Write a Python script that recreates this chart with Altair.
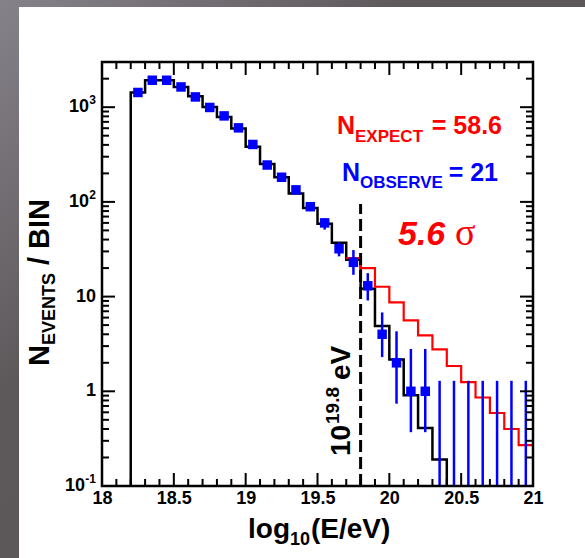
import altair as alt
import pandas as pd

W, H = 431, 424
FONT = "Liberation Sans"

# ---- data -------------------------------------------------------------
# black histogram (expectation with suppression), lower bin edges, width 0.1
mc_lo = [18.2, 18.3, 18.4, 18.5, 18.6, 18.7, 18.8, 18.9, 19.0, 19.1, 19.2,
         19.3, 19.4, 19.5, 19.6, 19.7, 19.8, 19.9, 20.0, 20.1, 20.2, 20.3]
mc_val = [1430, 1925, 1925, 1636, 1306, 1007, 790, 597, 382, 251, 182,
          123, 86, 58.7, 37, 24.5, 12.1, 4.9, 2.17, 0.91, 0.41, 0.19]
mc_end = 20.4

# red histogram (expectation without cutoff)
exp_lo = [19.7, 19.8, 19.9, 20.0, 20.1, 20.2, 20.3, 20.4, 20.5, 20.6, 20.7, 20.8, 20.9]
exp_val = [25.5, 20.0, 12.7, 8.7, 5.6, 3.9, 2.77, 1.85, 1.25, 0.86, 0.59, 0.40, 0.27]
exp_end = 21.0

# observed events (blue squares) with error bars
obs_x = [18.25, 18.35, 18.45, 18.55, 18.65, 18.75, 18.85, 18.95, 19.05, 19.15, 19.25,
         19.35, 19.45, 19.55, 19.65, 19.75, 19.85, 19.95, 20.05, 20.15, 20.25]
obs_n = [1430, 1925, 1925, 1636, 1283, 993, 809, 605, 404, 245, 182,
         134, 89, 60, 32, 23, 13, 4, 2, 1, 1]
obs_lo = [1392, 1881, 1881, 1596, 1247, 961, 781, 580, 384, 229, 169,
          122, 80, 51, 26.6, 17, 9.1, 2.3, 0.74, 0.37, 0.37]
obs_hi = [1468, 1969, 1969, 1676, 1319, 1025, 837, 630, 424, 261, 195,
          147, 99, 67, 37.5, 31, 17.7, 6.8, 4.3, 2.8, 2.8]

# empty bins: upper limits only
zero_x = [20.35, 20.45, 20.55, 20.65, 20.75, 20.85, 20.95]
zero_lo = [0.1, 0.1, 0.1, 0.1, 0.1, 0.1, 0.1]
zero_hi = [1.29, 1.29, 1.29, 1.29, 1.29, 1.29, 1.29]

cut_x = 19.8
cut_top = 95

x_labels = [18, 18.5, 19, 19.5, 20, 20.5, 21]
y_decades = [0.1, 1, 10, 100, 1000]
y_main = ["10", "1", "10", "10", "10"]
y_sup = ["-1", "", "", "2", "3"]

# ---- scales -----------------------------------------------------------
xs = alt.Scale(domain=[18, 21], nice=False, zero=False)
ys = alt.Scale(type="log", domain=[0.1, 3000], nice=False)
xaxis = alt.Axis(values=x_labels, labelExpr="'' + datum.value", ticks=False,
                 domain=False, grid=False, title=None, labelFont=FONT,
                 labelFontWeight="bold", labelFontSize=18, labelColor="black",
                 labelPadding=3, labelFlush=False, labelOverlap=False, zindex=2)

one = pd.DataFrame({"a": [0]})

# ---- background --------------------------------------------------------
bg = alt.Chart(one).mark_rect(
    fill=alt.Gradient(gradient="linear", x1=0, y1=0, x2=1, y2=1,
                      stops=[alt.GradientStop(color="#86828a", offset=0),
                             alt.GradientStop(color="#5d595b", offset=0.35),
                             alt.GradientStop(color="#5a5658", offset=1)])
).encode(x=alt.value(-102), x2=alt.value(483), y=alt.value(-62), y2=alt.value(496))

panel = alt.Chart(one).mark_rect(fill="white").encode(
    x=alt.value(19 - 102), x2=alt.value(483), y=alt.value(7 - 62), y2=alt.value(496))

# ---- histograms --------------------------------------------------------
mc_df = pd.DataFrame({
    "x": [mc_lo[0]] + mc_lo + [mc_end],
    "y": [0.1] + mc_val + [0.1],
})
mc_df["o"] = range(len(mc_df))
mc = alt.Chart(mc_df).mark_line(interpolate="step-after", color="black", strokeWidth=2.5).encode(
    x=alt.X("x:Q", scale=xs, axis=xaxis),
    y=alt.Y("y:Q", scale=ys, axis=None),
    order="o:Q")

ex_df = pd.DataFrame({"x": exp_lo + [exp_end], "y": exp_val + [exp_val[-1]]})
ex_df["o"] = range(len(ex_df))
ex = alt.Chart(ex_df).mark_line(interpolate="step-after", color="#ff0000", strokeWidth=2.2).encode(
    x=alt.X("x:Q", scale=xs, axis=xaxis),
    y=alt.Y("y:Q", scale=ys, axis=None),
    order="o:Q")

cut_df = pd.DataFrame({"x": [cut_x], "y": [0.1], "y2": [cut_top]})
cut = alt.Chart(cut_df).mark_rule(color="black", strokeWidth=3, strokeDash=[12, 5]).encode(
    x=alt.X("x:Q", scale=xs, axis=xaxis),
    y=alt.Y("y:Q", scale=ys, axis=None), y2="y2:Q")

# ---- observed ----------------------------------------------------------
obs_df = pd.DataFrame({"x": obs_x, "n": obs_n, "lo": obs_lo, "hi": obs_hi})
zero_df = pd.DataFrame({"x": zero_x, "lo": zero_lo, "hi": zero_hi})
err = alt.Chart(obs_df).mark_rule(color="#0000ff", strokeWidth=2.5).encode(
    x=alt.X("x:Q", scale=xs, axis=xaxis),
    y=alt.Y("lo:Q", scale=ys, axis=None), y2="hi:Q")
zerr = alt.Chart(zero_df).mark_rule(color="#0000ff", strokeWidth=2.5).encode(
    x=alt.X("x:Q", scale=xs, axis=xaxis),
    y=alt.Y("lo:Q", scale=ys, axis=None), y2="hi:Q")
pts = alt.Chart(obs_df).mark_square(color="#0000ff", size=90, opacity=1).encode(
    x=alt.X("x:Q", scale=xs, axis=xaxis),
    y=alt.Y("n:Q", scale=ys, axis=None))

# ---- ticks (inward, mirrored) -----------------------------------------
xt = [round(18 + i * 0.1, 1) for i in range(31)]
xt_df = pd.DataFrame({"t": xt, "major": [i % 5 == 0 for i in range(31)]})
yt = [m * 10 ** e for e in range(-1, 4) for m in range(1, 10) if m * 10 ** e <= 3000]
yt_df = pd.DataFrame({"t": yt, "major": [m == 1 for e in range(-1, 4) for m in range(1, 10)
                                         if m * 10 ** e <= 3000]})
xt_maj = xt_df[xt_df["major"]]
xt_min = xt_df[~xt_df["major"]]
yt_maj = yt_df[yt_df["major"]]
yt_min = yt_df[~yt_df["major"]]

tick_layers = []
for d, L in ((xt_maj, 13), (xt_min, 7)):
    tick_layers.append(alt.Chart(d).mark_rule(color="black", strokeWidth=2).encode(
        x=alt.X("t:Q", scale=xs, axis=xaxis), y=alt.value(H), y2=alt.value(H - L)))
    tick_layers.append(alt.Chart(d).mark_rule(color="black", strokeWidth=2).encode(
        x=alt.X("t:Q", scale=xs, axis=xaxis), y=alt.value(0), y2=alt.value(L)))
for d, L in ((yt_maj, 13), (yt_min, 7)):
    tick_layers.append(alt.Chart(d).mark_rule(color="black", strokeWidth=2).encode(
        y=alt.Y("t:Q", scale=ys, axis=None), x=alt.value(0), x2=alt.value(L)))
    tick_layers.append(alt.Chart(d).mark_rule(color="black", strokeWidth=2).encode(
        y=alt.Y("t:Q", scale=ys, axis=None), x=alt.value(W), x2=alt.value(W - L)))

frame = alt.Chart(one).mark_rect(fillOpacity=0, stroke="black", strokeWidth=2.5).encode(
    x=alt.value(0), x2=alt.value(W), y=alt.value(0), y2=alt.value(H))

# ---- y tick labels (10 with superscript) -------------------------------
sup_w = {"": 0, "2": 7, "3": 7, "-1": 11}
lab_df = pd.DataFrame({
    "y": y_decades, "main": y_main, "sup": y_sup,
    "mx": [-6 - sup_w[s] for s in y_sup],
    "dy": [2 if s else 0 for s in y_sup],
})
ylab_main = alt.Chart(lab_df).mark_text(font=FONT, fontWeight="bold", fontSize=18, align="right",
                                        baseline="middle", color="black").encode(
    y=alt.Y("y:Q", scale=ys, axis=None), x=alt.X("mx:Q", scale=None), text="main:N",
    yOffset=alt.YOffset("dy:Q", scale=None))
ylab_sup = alt.Chart(lab_df).mark_text(font=FONT, fontWeight="bold", fontSize=12, align="right",
                                       baseline="middle", color="black", dy=-7).encode(
    y=alt.Y("y:Q", scale=ys, axis=None), x=alt.value(-6), text="sup:N")


def txt(s, x, y, size, color="black", angle=0, align="left", weight="bold",
        style="normal", font=FONT):
    return alt.Chart(one).mark_text(text=s, fontSize=size, color=color, angle=angle,
                                    align=align, baseline="alphabetic", fontWeight=weight,
                                    fontStyle=style, font=font).encode(
        x=alt.value(x), y=alt.value(y))


texts = [
    # y title
    txt("N", -53, 304, 29, angle=270),
    txt("EVENTS", -47, 283, 18, angle=270),
    txt("/ BIN", -53, 203, 29, angle=270),
    # x title
    txt("log", 146, 476, 28),
    txt("10", 188, 483, 18),
    txt("(E/eV)", 209, 476, 28),
    # annotations
    txt("N", 235, 72, 25, color="#ff0000"),
    txt("EXPECT", 253, 80, 17, color="#ff0000"),
    txt("= 58.6", 400, 72, 25, color="#ff0000", align="right"),
    txt("N", 240, 119, 25, color="#0000ff"),
    txt("OBSERVE", 258, 126, 17, color="#0000ff"),
    txt("= 21", 396, 119, 25, color="#0000ff", align="right"),
    txt("5.6", 296, 183, 34, color="#ff0000", style="italic"),
    txt("σ", 353, 183, 38, color="#ff0000", weight="normal", font="Liberation Serif"),
    # cut label
    txt("10", 248, 394, 28, angle=270),
    txt("19.8", 237, 362, 19, angle=270),
    txt("eV", 248, 318, 28, angle=270),
]

chart = alt.layer(bg, panel, mc, ex, cut, err, zerr, pts, *tick_layers, frame,
                  ylab_main, ylab_sup, *texts).properties(
    width=W, height=H,
    autosize=alt.AutoSizeParams(type="none"),
    padding={"left": 102, "top": 62, "right": 52, "bottom": 72},
).configure(background="#5e5a5c").configure_view(strokeWidth=0)

chart.save("out.html", embed_options={"renderer": "svg", "actions": False})
